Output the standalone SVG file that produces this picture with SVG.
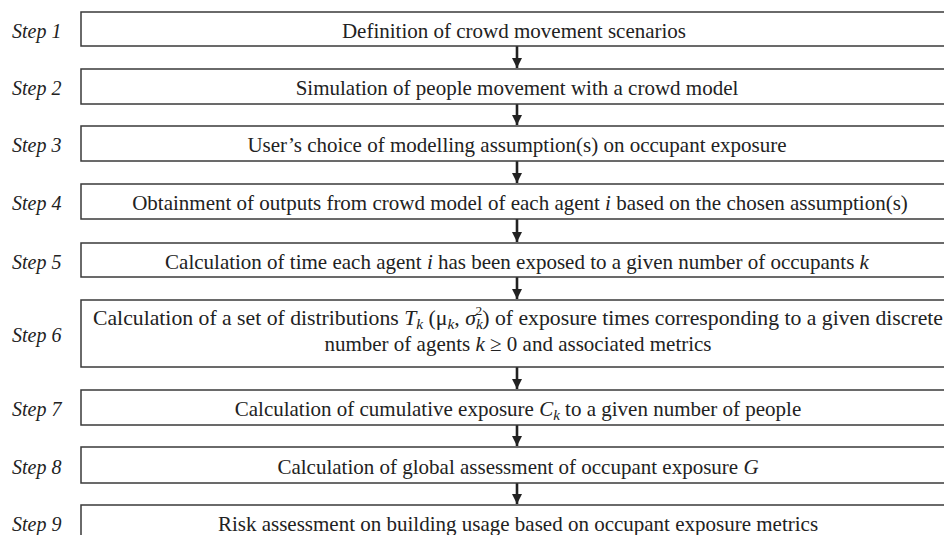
<svg xmlns="http://www.w3.org/2000/svg" width="944" height="535" viewBox="0 0 944 535">
<style>
.box{fill:#fff;stroke:#3a3a3a;stroke-width:1.5}
.lbl{font-family:"Liberation Serif","Times New Roman",serif;font-style:italic;font-size:20px;fill:#222}
.txt{font-family:"Liberation Serif","Times New Roman",serif;font-size:21px;fill:#222;text-anchor:middle}
.m{font-style:italic}
.sub{font-size:15px;font-style:italic}
.sup{font-size:13px}
.conn{stroke:#222;stroke-width:2.6;fill:none}
</style>
<defs>
<marker id="ah" markerWidth="10" markerHeight="10" refX="10" refY="5" orient="auto" markerUnits="userSpaceOnUse" viewBox="0 0 10 10">
<path d="M0,0 L10,5 L0,10 Z" fill="#222"/>
</marker>
</defs>
<rect width="944" height="535" fill="#fff"/>
<g id="connectors">
<line class="conn" x1="517" y1="46" x2="517" y2="68" marker-end="url(#ah)"/>
<line class="conn" x1="517" y1="104" x2="517" y2="125" marker-end="url(#ah)"/>
<line class="conn" x1="517" y1="161" x2="517" y2="183" marker-end="url(#ah)"/>
<line class="conn" x1="517" y1="219" x2="517" y2="242" marker-end="url(#ah)"/>
<line class="conn" x1="517" y1="277" x2="517" y2="299" marker-end="url(#ah)"/>
<line class="conn" x1="517" y1="367" x2="517" y2="389" marker-end="url(#ah)"/>
<line class="conn" x1="517" y1="425" x2="517" y2="446" marker-end="url(#ah)"/>
<line class="conn" x1="517" y1="483" x2="517" y2="504" marker-end="url(#ah)"/>
</g>
<g id="step1">
<text class="lbl" x="12" y="37.5">Step 1</text>
<rect class="box" x="81" y="12" width="880" height="34"/>
<text class="txt" x="514" y="37.5">Definition of crowd movement scenarios</text>
</g>
<g id="step2">
<text class="lbl" x="12" y="95">Step 2</text>
<rect class="box" x="81" y="69" width="880" height="35"/>
<text class="txt" x="517" y="95">Simulation of people movement with a crowd model</text>
</g>
<g id="step3">
<text class="lbl" x="12" y="152">Step 3</text>
<rect class="box" x="81" y="126" width="880" height="35"/>
<text class="txt" x="517" y="152">User’s choice of modelling assumption(s) on occupant exposure</text>
</g>
<g id="step4">
<text class="lbl" x="12" y="210">Step 4</text>
<rect class="box" x="81" y="184" width="880" height="35"/>
<text class="txt" x="520" y="210">Obtainment of outputs from crowd model of each agent <tspan class="m">i</tspan> based on the chosen assumption(s)</text>
</g>
<g id="step5">
<text class="lbl" x="12" y="268.5">Step 5</text>
<rect class="box" x="81" y="243" width="880" height="34"/>
<text class="txt" x="517" y="268.5">Calculation of time each agent <tspan class="m">i</tspan> has been exposed to a given number of occupants <tspan class="m">k</tspan></text>
</g>
<g id="step6">
<text class="lbl" x="12" y="342">Step 6</text>
<rect class="box" x="81" y="300" width="880" height="67"/>
<text class="txt" x="518" y="325" textLength="850" lengthAdjust="spacingAndGlyphs">Calculation of a set of distributions <tspan class="m">T</tspan><tspan class="sub" dy="4">k</tspan><tspan dy="-4"> (μ</tspan><tspan class="sub" dy="4">k</tspan><tspan dy="-4">, </tspan><tspan class="m">σ</tspan><tspan class="sub" dy="4">k</tspan><tspan class="sup" dx="-7" dy="-14">2</tspan><tspan dy="10">) of exposure times corresponding to a given discrete</tspan></text>
<text class="txt" x="518" y="351">number of agents <tspan class="m">k</tspan> ≥ 0 and associated metrics</text>
</g>
<g id="step7">
<text class="lbl" x="12" y="416">Step 7</text>
<rect class="box" x="81" y="390" width="880" height="35"/>
<text class="txt" x="518" y="416">Calculation of cumulative exposure <tspan class="m">C</tspan><tspan class="sub" dy="4">k</tspan><tspan dy="-4"> to a given number of people</tspan></text>
</g>
<g id="step8">
<text class="lbl" x="12" y="473.5">Step 8</text>
<rect class="box" x="81" y="447" width="880" height="36"/>
<text class="txt" x="518" y="473.5">Calculation of global assessment of occupant exposure <tspan class="m">G</tspan></text>
</g>
<g id="step9">
<text class="lbl" x="12" y="531">Step 9</text>
<rect class="box" x="81" y="505" width="880" height="40"/>
<text class="txt" x="518" y="531">Risk assessment on building usage based on occupant exposure metrics</text>
</g>
</svg>
